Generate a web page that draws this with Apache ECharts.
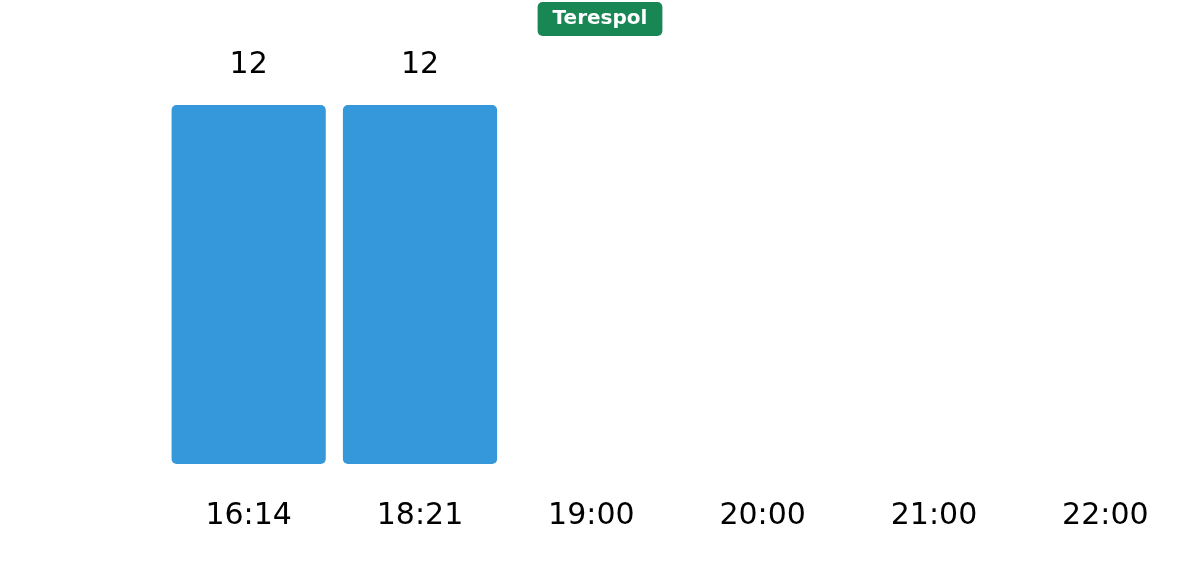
<!DOCTYPE html>
<html>
<head>
<meta charset="utf-8">
<script src="https://cdn.jsdelivr.net/npm/echarts@6/dist/echarts.min.js"></script>
<style>
html,body{margin:0;padding:0;background:#fff;}
#chart{width:1200px;height:586px;}
</style>
</head>
<body>
<div id="chart"></div>
<script>
var titleText = 'Terespol';
var categories = ['16:14', '18:21', '19:00', '20:00', '21:00', '22:00'];
var values = [12, 12, null, null, null, null];

var chart = echarts.init(document.getElementById('chart'), null, {renderer: 'canvas'});
chart.setOption({
  animation: false,
  backgroundColor: '#ffffff',
  title: {
    text: titleText,
    left: 'center',
    top: 2,
    backgroundColor: '#198754',
    borderRadius: 5,
    padding: [7, 15, 7, 15],
    textStyle: {
      color: '#ffffff',
      fontFamily: 'DejaVu Sans',
      fontWeight: 'bold',
      fontSize: 20,
      lineHeight: 20
    }
  },
  grid: {left: 163, right: 9, top: 105, bottom: 122, containLabel: false},
  xAxis: {
    type: 'category',
    data: categories,
    axisLine: {show: false},
    axisTick: {show: false},
    splitLine: {show: false},
    axisLabel: {
      color: '#000000',
      fontFamily: 'DejaVu Sans',
      fontSize: 30,
      margin: 37,
      interval: 0
    }
  },
  yAxis: {
    type: 'value',
    min: 0,
    max: 12,
    show: false,
    splitLine: {show: false}
  },
  series: [{
    type: 'bar',
    data: values,
    barCategoryGap: '10%',
    itemStyle: {color: '#3598db', borderRadius: 5},
    label: {
      show: true,
      position: 'top',
      distance: 25,
      color: '#000000',
      fontFamily: 'DejaVu Sans',
      fontSize: 30
    }
  }]
});
</script>
</body>
</html>
